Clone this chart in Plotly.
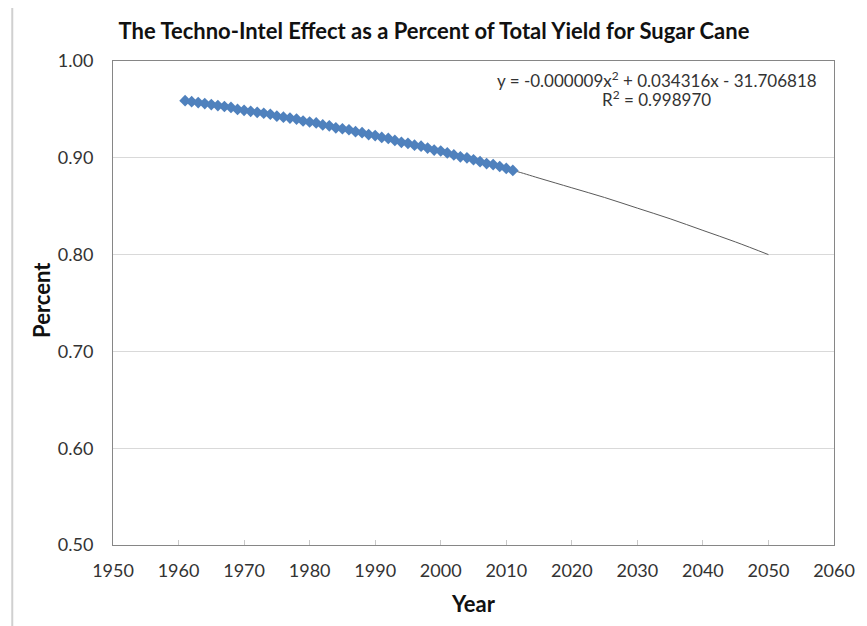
import plotly.graph_objects as go

# Observed data (percent of total yield), 1961-2011
years = list(range(1961, 2012))
percent = [0.959, 0.958, 0.957, 0.956, 0.955, 0.954, 0.953, 0.952, 0.950, 0.949,
           0.948, 0.947, 0.946, 0.945, 0.943, 0.942, 0.941, 0.940, 0.938, 0.937,
           0.936, 0.934, 0.933, 0.931, 0.930, 0.929, 0.927, 0.926, 0.924, 0.923,
           0.921, 0.920, 0.918, 0.916, 0.915, 0.913, 0.912, 0.910, 0.908, 0.907,
           0.905, 0.903, 0.901, 0.900, 0.898, 0.896, 0.894, 0.893, 0.891, 0.889,
           0.887]

# Trendline
trend_years = [1961, 1970, 1980, 1990, 2000, 2011, 2015, 2020, 2025, 2030, 2035, 2040, 2045, 2050]
trend_values = [0.959, 0.949, 0.936, 0.922, 0.905, 0.887, 0.879, 0.869, 0.859, 0.848,
                0.837, 0.825, 0.813, 0.800]

x_ticks = [1950, 1960, 1970, 1980, 1990, 2000, 2010, 2020, 2030, 2040, 2050, 2060]
y_ticks = [0.50, 0.60, 0.70, 0.80, 0.90, 1.00]

title_text = "The Techno-Intel Effect as a Percent of Total Yield for Sugar Cane"
equation_text = "y = -0.000009x<sup>2</sup> + 0.034316x - 31.706818"
r2_text = "R<sup>2</sup> = 0.998970"
x_title = "Year"
y_title = "Percent"

FONT = "Lato, 'Open Sans', sans-serif"
TXT = "#333333"

W, H = 859, 618
PL, PR, PT, PB = 105, 835, 53, 537


def px(X):
    return (X - PL) / (PR - PL)


def py(Y):
    return (PB - Y) / (PB - PT)


fig = go.Figure()
fig.add_trace(go.Scatter(
    x=trend_years, y=trend_values, mode="lines",
    line=dict(color="#5a5a5a", width=1, shape="spline"),
    showlegend=False, hoverinfo="skip"))
fig.add_trace(go.Scatter(
    x=years, y=percent, mode="lines+markers",
    line=dict(color="#3B6CAC", width=3),
    marker=dict(symbol="diamond", size=9, color="#4F81BD",
                line=dict(color="#4A7BB8", width=0)),
    showlegend=False))

fig.update_layout(
    width=W, height=H,
    margin=dict(l=PL, r=W - PR, t=PT, b=H - PB),
    paper_bgcolor="white", plot_bgcolor="white",
    font=dict(family=FONT, color=TXT, size=18),
    title=dict(text="<b>" + title_text + "</b>", x=426 / W, xref="container", xanchor="center",
               y=1 - 23 / H, yref="container", yanchor="middle",
               font=dict(family=FONT, size=22, color="#111111")),
    xaxis=dict(range=[1950, 2060], tickvals=x_ticks, ticktext=[str(v) for v in x_ticks],
               showgrid=False, zeroline=False,
               showline=True, linecolor="#868686", linewidth=1, mirror=True,
               ticks="inside", ticklen=5, tickcolor="#c8c8c8",
               ticklabelstandoff=9,
               tickfont=dict(family=FONT, size=18, color=TXT)),
    yaxis=dict(range=[0.5, 1.0], tickvals=y_ticks, ticktext=["%.2f" % v for v in y_ticks],
               showgrid=True, gridcolor="#d9d9d9", gridwidth=1, zeroline=False,
               showline=True, linecolor="#868686", linewidth=1, mirror=True,
               ticks="", tickfont=dict(family=FONT, size=18, color=TXT),
               ticklabelstandoff=15),
)

fig.add_annotation(text="<b>" + x_title + "</b>", xref="paper", yref="paper",
                   x=px(470), y=py(595), xanchor="center", yanchor="middle",
                   showarrow=False, font=dict(family=FONT, size=22, color="#111111"))
fig.add_annotation(text="<b>" + y_title + "</b>", xref="paper", yref="paper",
                   x=px(32), y=py(292), xanchor="center", yanchor="middle", textangle=-90,
                   showarrow=False, font=dict(family=FONT, size=22, color="#111111"))

fig.add_annotation(text=equation_text, xref="paper", yref="paper",
                   x=px(820), y=py(71), xanchor="right", yanchor="middle",
                   showarrow=False, font=dict(family=FONT, size=17, color=TXT))
fig.add_annotation(text=r2_text, xref="paper", yref="paper",
                   x=px(655), y=py(91), xanchor="center", yanchor="middle",
                   showarrow=False, font=dict(family=FONT, size=17, color=TXT))

# chart-area frame edge (left)
fig.add_shape(type="line", xref="paper", yref="paper",
              x0=px(3), x1=px(3), y0=py(H), y1=py(0),
              line=dict(color="#d0d0d0", width=2))

fig.write_html("out.html")
